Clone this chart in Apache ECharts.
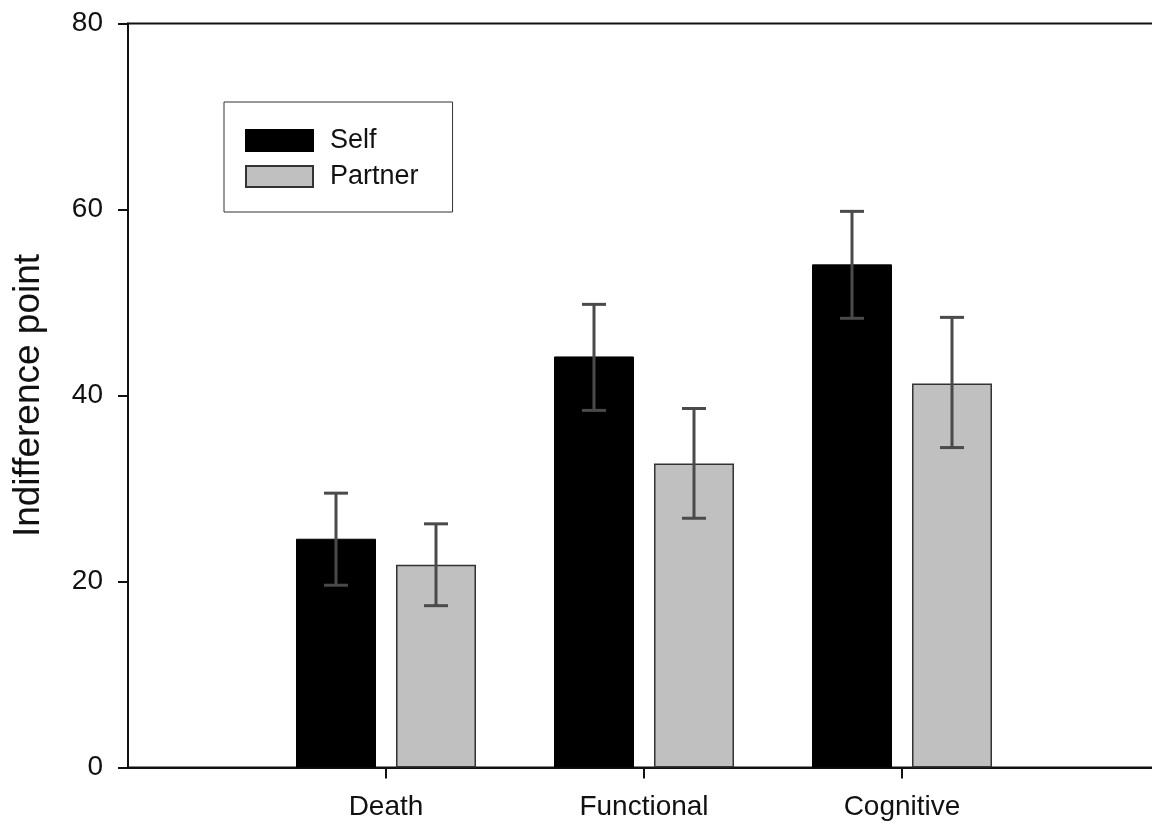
<!DOCTYPE html>
<html>
<head>
<meta charset="utf-8">
<script src="https://cdn.jsdelivr.net/npm/echarts@6/dist/echarts.min.js"></script>
<style>html,body{margin:0;padding:0;background:#fff}#c{width:1152px;height:823px}</style>
</head>
<body>
<div id="c"></div>
<script>
const categories = ['', 'Death', 'Functional', 'Cognitive', ''];
const selfValues = [null, 24.6, 44.2, 54.1, null];
const selfUpper = [null, 29.5, 49.8, 59.8, null];
const selfLower = [null, 19.6, 38.4, 48.3, null];
const partnerValues = [null, 21.8, 32.7, 41.3, null];
const partnerUpper = [null, 26.2, 38.6, 48.4, null];
const partnerLower = [null, 17.4, 26.8, 34.4, null];
const yTicks = [0, 20, 40, 60, 80];

const BAR_W = 80, GAP = 20, CAP = 24;
const FONT = 'Liberation Sans, Arial, sans-serif';

function errData(upper, lower) {
  const out = [];
  upper.forEach((u, i) => { if (u != null) out.push([i, u, lower[i]]); });
  return out;
}
function errSeries(name, data, shift) {
  return {
    type: 'custom', name: name, data: data, z: 5,
    encode: { x: 0, y: [1, 2] },
    renderItem: function (params, api) {
      const i = api.value(0);
      const top = api.coord([i, api.value(1)]);
      const bot = api.coord([i, api.value(2)]);
      const x = top[0] + shift;
      const st = { stroke: '#4a4a4a', lineWidth: 3 };
      return { type: 'group', children: [
        { type: 'line', shape: { x1: x, y1: top[1], x2: x, y2: bot[1] }, style: st },
        { type: 'line', shape: { x1: x - CAP / 2, y1: top[1], x2: x + CAP / 2, y2: top[1] }, style: st },
        { type: 'line', shape: { x1: x - CAP / 2, y1: bot[1], x2: x + CAP / 2, y2: bot[1] }, style: st }
      ]};
    }
  };
}

const chart = echarts.init(document.getElementById('c'));
chart.setOption({
  animation: false,
  backgroundColor: '#fff',
  grid: { left: 128, right: -8, top: 23.5, bottom: 55.5, outerBoundsMode: 'none', containLabel: false,
    show: true, borderColor: '#111', borderWidth: 2, backgroundColor: 'transparent' },
  legend: {
    left: 224, top: 102,
    orient: 'vertical', padding: [25, 34, 22, 21], itemGap: 9,
    itemWidth: 67, itemHeight: 21, icon: 'rect',
    borderColor: '#333', borderWidth: 1, backgroundColor: '#fff',
    data: ['Self', 'Partner'],
    textStyle: { fontFamily: FONT, fontSize: 27, color: '#111', padding: [0, 0, 0, 12] }
  },
  xAxis: {
    type: 'category', data: categories, boundaryGap: false,
    axisLine: { lineStyle: { color: '#111', width: 2 } },
    axisTick: { show: true, length: 11, inside: false, lineStyle: { color: '#111', width: 2 },
      interval: function (i) { return categories[i] !== ''; } },
    axisLabel: { fontFamily: FONT, fontSize: 28, color: '#111', margin: 26, interval: 0 },
    splitLine: { show: false }
  },
  yAxis: {
    type: 'value', min: 0, max: 80, interval: 20,
    name: 'Indifference point', nameLocation: 'middle', nameGap: 81,
    nameTextStyle: { fontFamily: FONT, fontSize: 37, color: '#111' },
    axisLine: { show: true, lineStyle: { color: '#111', width: 2 } },
    axisTick: { show: true, length: 10, lineStyle: { color: '#111', width: 2 } },
    axisLabel: { fontFamily: FONT, fontSize: 28, color: '#111', margin: 25,
      formatter: function (v) { return yTicks.indexOf(v) >= 0 ? String(v) : ''; } },
    splitLine: { show: false }
  },
  series: [
    { type: 'bar', name: 'Self', data: selfValues, barWidth: BAR_W, barGap: (GAP / BAR_W * 100) + '%',
      itemStyle: { color: '#000', borderColor: '#000', borderWidth: 1 } },
    { type: 'bar', name: 'Partner', data: partnerValues, barWidth: BAR_W,
      itemStyle: { color: '#c0c0c0', borderColor: '#333', borderWidth: 1.5 } },
    errSeries('SelfErr', errData(selfUpper, selfLower), -(BAR_W + GAP) / 2),
    errSeries('PartnerErr', errData(partnerUpper, partnerLower), (BAR_W + GAP) / 2)
  ]
});
</script>
</body>
</html>
